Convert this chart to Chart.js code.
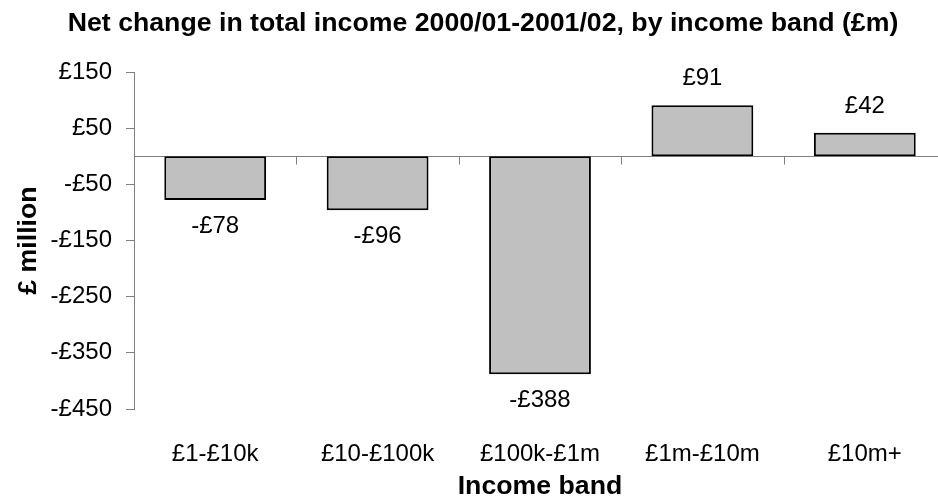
<!DOCTYPE html>
<html>
<head>
<meta charset="utf-8">
<script src="https://cdn.jsdelivr.net/npm/chart.js@4/dist/chart.umd.min.js"></script>
<style>
  html, body { margin: 0; padding: 0; overflow: hidden; background: #fff; }
  canvas { display: block; }
</style>
</head>
<body>
<canvas id="myChart" width="946" height="498"></canvas>
<script>
let bandes = ['£1-£10k', '£10-£100k', '£100k-£1m', '£1m-£10m', '£10m+'];
let variation_nette = [-78, -96, -388, 91, 42];

let y_min = -450;
let y_max = 150;
let y_pas = 100;

function format_livres(v) {
    return (v < 0 ? '-£' : '£') + Math.abs(v);
}

// ligne du zero + petites graduations entre les categories
const ligne_zero = {
    id: 'ligne_zero',
    beforeDatasetsDraw(chart) {
        const ctx = chart.ctx;
        const x = chart.scales.x;
        const y0 = Math.round(chart.scales.y.getPixelForValue(0)) + 0.5;
        ctx.save();
        ctx.strokeStyle = '#808080';
        ctx.lineWidth = 1;
        ctx.beginPath();
        ctx.moveTo(chart.chartArea.left, y0);
        ctx.lineTo(chart.chartArea.right, y0);
        for (let i = 1; i < bandes.length; i++) {
            let xm = Math.round((x.getPixelForValue(i - 1) + x.getPixelForValue(i)) / 2) + 0.5;
            ctx.moveTo(xm, y0);
            ctx.lineTo(xm, y0 + 8);
        }
        ctx.stroke();
        ctx.restore();
    }
};

// etiquettes de valeur au bout des barres
const etiquettes = {
    id: 'etiquettes',
    afterDatasetsDraw(chart) {
        const ctx = chart.ctx;
        const meta = chart.getDatasetMeta(0);
        ctx.save();
        ctx.font = '24px "Liberation Sans", Arial, sans-serif';
        ctx.fillStyle = '#000';
        ctx.textAlign = 'center';
        ctx.textBaseline = 'alphabetic';
        meta.data.forEach((bar, i) => {
            let v = variation_nette[i];
            let y = v < 0 ? bar.y + 33 : bar.y - 20;
            ctx.fillText(format_livres(v), bar.x, y);
        });
        ctx.restore();
    }
};

Chart.defaults.font.family = '"Liberation Sans", Arial, sans-serif';
Chart.defaults.color = '#000';

const ctx = document.getElementById('myChart');

new Chart(ctx, {
    type: 'bar',
    data: {
        labels: bandes,
        datasets: [{
            data: variation_nette,
            backgroundColor: '#C0C0C0',
            borderColor: '#000',
            borderWidth: 2,
            borderSkipped: false,
            barPercentage: 0.627,
            categoryPercentage: 1
        }]
    },
    options: {
        responsive: false,
        animation: false,
        layout: { padding: { left: 20, right: 0, top: 0, bottom: 0 } },
        plugins: {
            legend: { display: false },
            tooltip: { enabled: false },
            title: {
                display: true,
                text: 'Net change in total income 2000/01-2001/02, by income band (£m)',
                font: { size: 26.7, weight: 'bold' },
                color: '#000',
                padding: { top: 8, bottom: 32 }
            }
        },
        scales: {
            x: {
                grid: { display: false },
                border: { display: false },
                ticks: { font: { size: 24 }, padding: 23, maxRotation: 0, autoSkip: false },
                title: {
                    display: true,
                    text: 'Income band',
                    font: { size: 26.7, weight: 'bold' },
                    padding: { top: 0, bottom: -5 }
                },
                afterFit: (s) => { s.height = 89; }
            },
            y: {
                min: y_min,
                max: y_max,
                grid: {
                    drawOnChartArea: false,
                    drawTicks: true,
                    tickLength: 8,
                    tickColor: '#808080'
                },
                border: { display: true, color: '#808080', width: 1 },
                ticks: {
                    stepSize: y_pas,
                    font: { size: 24 },
                    padding: 14,
                    callback: (v) => format_livres(v)
                },
                title: {
                    display: true,
                    text: '£ million',
                    font: { size: 26.7, weight: 'bold' },
                    padding: { top: -7, bottom: 0 }
                },
                afterFit: (s) => { s.width = 114; }
            }
        }
    },
    plugins: [ligne_zero, etiquettes]
});
</script>
</body>
</html>
